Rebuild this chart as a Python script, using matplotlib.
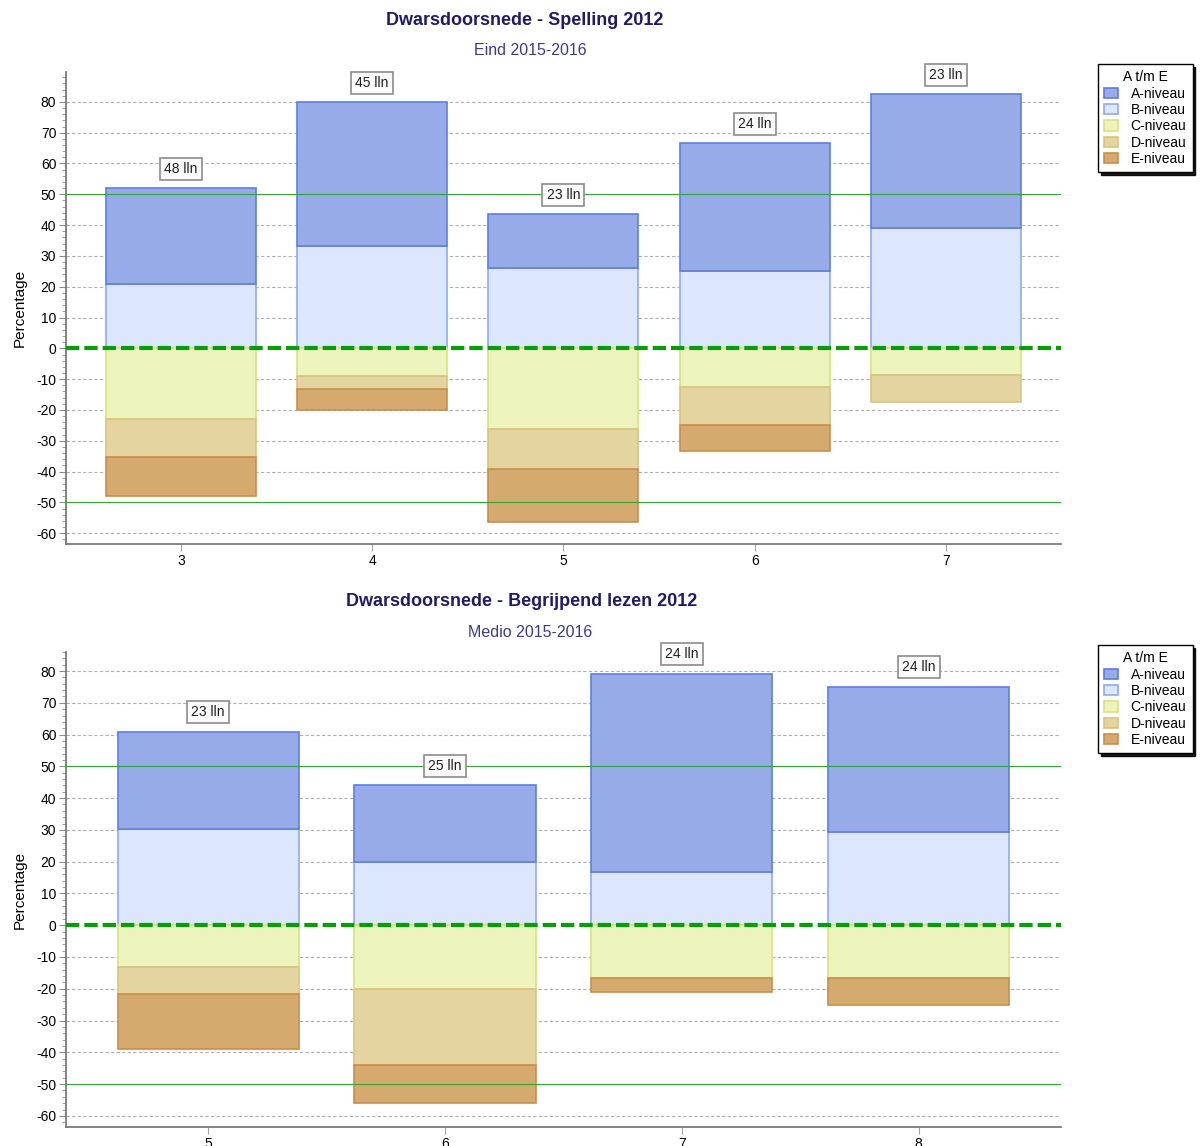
import matplotlib
matplotlib.use("Agg")
import matplotlib.pyplot as plt
from matplotlib.patches import Patch
from matplotlib.ticker import MultipleLocator

plt.rcParams["font.family"] = ["Liberation Sans", "DejaVu Sans"]
plt.rcParams["axes.unicode_minus"] = False

# Spelling 2012 - Eind 2015-2016
spel_groepen = ["3", "4", "5", "6", "7"]
spel_lln = [48, 45, 23, 24, 23]
spel_a = [31.3, 46.7, 17.4, 41.7, 43.5]
spel_b = [20.8, 33.3, 26.1, 25.0, 39.1]
spel_c = [22.9, 8.9, 26.1, 12.5, 8.7]
spel_d = [12.5, 4.4, 13.0, 12.5, 8.7]
spel_e = [12.5, 6.7, 17.4, 8.3, 0.0]

# Begrijpend lezen 2012 - Medio 2015-2016
bl_groepen = ["5", "6", "7", "8"]
bl_lln = [23, 25, 24, 24]
bl_a = [30.4, 24.0, 62.5, 45.8]
bl_b = [30.4, 20.0, 16.7, 29.2]
bl_c = [13.0, 20.0, 16.7, 16.7]
bl_d = [8.7, 24.0, 0.0, 0.0]
bl_e = [17.4, 12.0, 4.2, 8.3]

niveaus = ["A-niveau", "B-niveau", "C-niveau", "D-niveau", "E-niveau"]
fills = ["#97abe8", "#dce6fd", "#edf3bd", "#e4d4a0", "#d4aa6e"]
edges = ["#5b7fe0", "#8faaf5", "#d9e37e", "#dcc47c", "#c98f4a"]

TITLE_COL = "#1f1a6e"
SUB_COL = "#3b3a8c"


def draw_panel(ax, groepen, lln, a, b, c, d, e, ymax, width):
    x = list(range(len(groepen)))
    # gridlines and reference lines
    for v in range(-60, 90, 10):
        if v in (-50, 0, 50):
            continue
        ax.axhline(v, color="#b0b0b0", lw=0.8, ls=(0, (3, 2)), zorder=0)
    for v in (-50, 50):
        ax.axhline(v, color="#2ea82e", lw=0.8, zorder=3)

    # positive side: B from 0, A stacked on B
    ax.bar(x, b, width, bottom=0, color=fills[1], edgecolor=edges[1], lw=1.2, zorder=2)
    ax.bar(x, a, width, bottom=b, color=fills[0], edgecolor=edges[0], lw=1.2, zorder=2)
    # negative side: C, D, E stacked downwards
    neg_c = [-v for v in c]
    neg_d = [-v for v in d]
    neg_e = [-v for v in e]
    bot_d = neg_c
    bot_e = [p + q for p, q in zip(neg_c, neg_d)]
    ax.bar(x, neg_c, width, bottom=0, color=fills[2], edgecolor=edges[2], lw=1.2, zorder=2)
    for i in x:
        if d[i] > 0:
            ax.bar(i, neg_d[i], width, bottom=bot_d[i], color=fills[3],
                   edgecolor=edges[3], lw=1.2, zorder=2)
        if e[i] > 0:
            ax.bar(i, neg_e[i], width, bottom=bot_e[i], color=fills[4],
                   edgecolor=edges[4], lw=1.2, zorder=2)

    ax.axhline(0, color="#00a000", lw=3, ls=(0, (3.2, 1.2)), zorder=4)

    # leerling counts above each bar
    for i in x:
        top = a[i] + b[i]
        ax.text(i, top + 6.2, f"{lln[i]} lln", ha="center", va="center", fontsize=10,
                color="#222222", zorder=5,
                bbox=dict(boxstyle="square,pad=0.3", fc="#fbfbfb", ec="#8c8c8c", lw=1.2))

    ax.set_xlim(-0.6, len(groepen) - 0.4)
    ax.set_ylim(-63.5, ymax)
    ax.set_xticks(x)
    ax.set_xticklabels(groepen)
    ax.yaxis.set_major_locator(MultipleLocator(10))
    ax.yaxis.set_minor_locator(MultipleLocator(2))
    ax.set_yticks(range(-60, 90, 10))
    ax.tick_params(axis="y", which="major", length=5, color="#909090", labelsize=10, pad=2)
    ax.tick_params(axis="y", which="minor", length=3, color="#909090")
    ax.tick_params(axis="x", length=5, color="#a0a0a0", labelsize=10, pad=2)
    for s in ("top", "right"):
        ax.spines[s].set_visible(False)
    for s in ("left", "bottom"):
        ax.spines[s].set_color("#707070")
        ax.spines[s].set_linewidth(1.2)
    ax.set_ylabel("Percentage", fontsize=11, labelpad=7)


fig = plt.figure(figsize=(12, 11.46), dpi=100)

ax1 = fig.add_axes([0.055, 0.5253, 0.829, 0.4119])
draw_panel(ax1, spel_groepen, spel_lln, spel_a, spel_b, spel_c, spel_d, spel_e, 89.7, 0.785)

ax2 = fig.add_axes([0.055, 0.0166, 0.829, 0.4145])
draw_panel(ax2, bl_groepen, bl_lln, bl_a, bl_b, bl_c, bl_d, bl_e, 86.0, 0.765)

fig.text(0.437, 0.9825, "Dwarsdoorsnede - Spelling 2012", ha="center", va="center",
         fontsize=13, fontweight="bold", color=TITLE_COL)
fig.text(0.442, 0.9555, "Eind 2015-2016", ha="center", va="center", fontsize=11.5, color=SUB_COL)
fig.text(0.435, 0.4755, "Dwarsdoorsnede - Begrijpend lezen 2012", ha="center", va="center",
         fontsize=13, fontweight="bold", color=TITLE_COL)
fig.text(0.442, 0.4485, "Medio 2015-2016", ha="center", va="center", fontsize=11.5, color=SUB_COL)

handles = [Patch(facecolor=f, edgecolor=ec, lw=1.2) for f, ec in zip(fills, edges)]
for ytop in (1 - 64 / 1146, 1 - 645 / 1146):
    leg = fig.legend(handles, niveaus, title="A t/m E", loc="upper left",
                     bbox_to_anchor=(1098 / 1200, ytop), fontsize=10, title_fontsize=10,
                     frameon=True, fancybox=False, shadow={"color": "black", "alpha": 0.9},
                     edgecolor="black", handlelength=1.0, handleheight=0.75,
                     handletextpad=0.9, labelspacing=0.17, borderpad=0.45,
                     borderaxespad=0)
    leg.get_frame().set_linewidth(1)

fig.savefig("out.png", dpi=100)
